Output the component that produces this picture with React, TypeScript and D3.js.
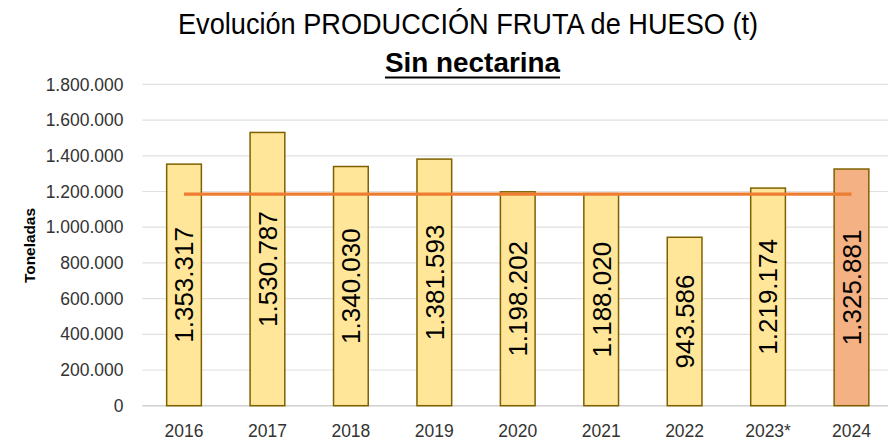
import { useEffect, useRef } from 'react';
import * as d3 from 'd3';

const YEARS = ['2016', '2017', '2018', '2019', '2020', '2021', '2022', '2023*', '2024'];
const PRODUCTION = [1353317, 1530787, 1340030, 1381593, 1198202, 1188020, 943586, 1219174, 1325881];
const Y_TICKS = [0, 200000, 400000, 600000, 800000, 1000000, 1200000, 1400000, 1600000, 1800000];
const REFERENCE_VALUE = 1185000;

const esES = d3.formatLocale({ decimal: ',', thousands: '.', grouping: [3], currency: ['', ' €'] });
const fmt = esES.format(',d');

const FONT = '"Liberation Sans", Arial, sans-serif';

export default function App() {
  const svgRef = useRef<SVGSVGElement>(null);

  useEffect(() => {
    if (!svgRef.current) return;
    const svg = d3.select(svgRef.current);
    svg.selectAll('*').remove();

    const left = 142.3;
    const right = 893.2;
    const top = 84.4;
    const bottom = 405.7;

    const x = d3.scaleBand<string>().domain(YEARS).range([left, right])
      .paddingInner(0.584).paddingOuter(0.292);
    const y = d3.scaleLinear().domain([0, 1800000]).range([bottom, top]);

    // Title
    svg.append('text')
      .attr('x', 468).attr('y', 33.5)
      .attr('text-anchor', 'middle').attr('font-family', FONT).attr('font-size', 30)
      .attr('fill', '#000')
      .attr('textLength', 580).attr('lengthAdjust', 'spacingAndGlyphs')
      .text('Evolución PRODUCCIÓN FRUTA de HUESO (t)');

    svg.append('text')
      .attr('x', 472.5).attr('y', 71.7)
      .attr('text-anchor', 'middle').attr('font-family', FONT).attr('font-size', 28)
      .attr('font-weight', 'bold').attr('fill', '#000')
      .attr('textLength', 175).attr('lengthAdjust', 'spacingAndGlyphs')
      .text('Sin nectarina');
    svg.append('line')
      .attr('x1', 385).attr('x2', 560).attr('y1', 77.5).attr('y2', 77.5)
      .attr('stroke', '#000').attr('stroke-width', 2);

    // Gridlines
    svg.append('g').selectAll('line')
      .data(Y_TICKS)
      .join('line')
      .attr('x1', left).attr('x2', right)
      .attr('y1', (d) => y(d)).attr('y2', (d) => y(d))
      .attr('stroke', (d) => (d === 0 ? '#d0d0d0' : '#e0e0e0'))
      .attr('stroke-width', (d) => (d === 0 ? 1.5 : 1.2));

    // Y tick labels
    svg.append('g').selectAll('text')
      .data(Y_TICKS)
      .join('text')
      .attr('x', 123.5).attr('y', (d) => y(d))
      .attr('dy', '0.35em')
      .attr('text-anchor', 'end').attr('font-family', FONT).attr('font-size', 17.5)
      .attr('fill', '#333')
      .text((d) => fmt(d));

    // Axis title
    svg.append('text')
      .attr('transform', `translate(35,${245.5}) rotate(-90)`)
      .attr('text-anchor', 'middle').attr('font-family', FONT).attr('font-size', 14.5)
      .attr('font-weight', 'bold').attr('fill', '#000')
      .attr('textLength', 75).attr('lengthAdjust', 'spacingAndGlyphs')
      .text('Toneladas');

    const rows = YEARS.map((year, i) => ({ year, value: PRODUCTION[i] }));

    // Bars
    svg.append('g').selectAll('rect')
      .data(rows)
      .join('rect')
      .attr('x', (d) => x(d.year)!)
      .attr('y', (d) => y(d.value))
      .attr('width', x.bandwidth())
      .attr('height', (d) => bottom - y(d.value))
      .attr('fill', (d) => (d.year === '2024' ? '#F4B183' : '#FFE699'))
      .attr('stroke', '#7F6000')
      .attr('stroke-width', 1.5);

    // Reference line
    svg.append('line')
      .attr('x1', x(YEARS[0])! + x.bandwidth() / 2)
      .attr('x2', x(YEARS[YEARS.length - 1])! + x.bandwidth() / 2)
      .attr('y1', y(REFERENCE_VALUE)).attr('y2', y(REFERENCE_VALUE))
      .attr('stroke', '#ED7D31').attr('stroke-width', 3.2);

    // Value labels (rotated, centred in bar)
    svg.append('g').selectAll('text')
      .data(rows)
      .join('text')
      .attr('transform', (d) => {
        const cx = x(d.year)! + x.bandwidth() / 2;
        const cy = (y(d.value) + bottom) / 2;
        return `translate(${cx},${cy}) rotate(-90)`;
      })
      .attr('dy', '0.36em')
      .attr('text-anchor', 'middle').attr('font-family', FONT).attr('font-size', 26)
      .attr('fill', '#000')
      .text((d) => fmt(d.value));

    // X labels
    svg.append('g').selectAll('text')
      .data(YEARS)
      .join('text')
      .attr('x', (d) => x(d)! + x.bandwidth() / 2)
      .attr('y', 437)
      .attr('text-anchor', 'middle').attr('font-family', FONT).attr('font-size', 17.5)
      .attr('fill', '#333')
      .text((d) => d);
  }, []);

  return (
    <svg
      ref={svgRef}
      width={888}
      height={442}
      style={{ position: 'absolute', left: 0, top: 0, background: '#fff', display: 'block' }}
    />
  );
}
